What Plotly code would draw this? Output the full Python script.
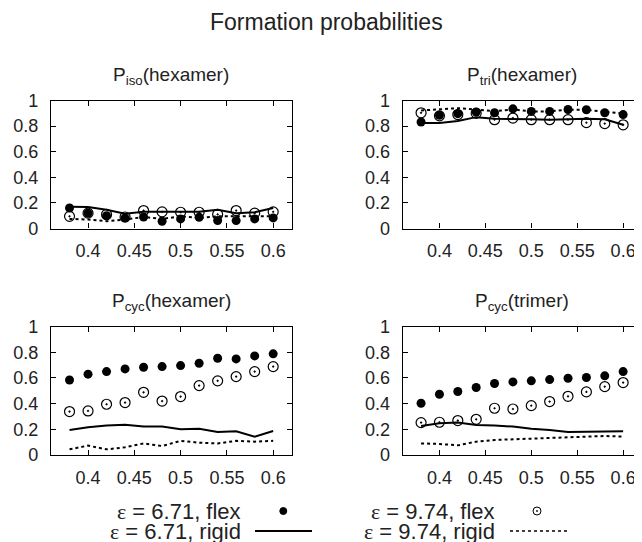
import plotly.graph_objects as go

W, H = 642, 542
OFF = 8  # page body margin of the html page
FONT = "Liberation Sans, Arial, Helvetica, sans-serif"

# x positions (packing fraction)
x = [0.38, 0.40, 0.42, 0.44, 0.46, 0.48, 0.50, 0.52, 0.54, 0.56, 0.58, 0.60]

# P_iso(hexamer)
iso_flex_671 = [0.16, 0.12, 0.10, 0.083, 0.09, 0.057, 0.075, 0.088, 0.062, 0.062, 0.075, 0.083]
iso_flex_974 = [0.095, 0.12, 0.11, 0.09, 0.14, 0.13, 0.127, 0.127, 0.11, 0.14, 0.12, 0.13]
iso_rigid_671 = [0.17, 0.168, 0.147, 0.116, 0.13, 0.13, 0.13, 0.13, 0.147, 0.12, 0.127, 0.16]
iso_rigid_974 = [0.075, 0.07, 0.057, 0.07, 0.09, 0.075, 0.095, 0.083, 0.095, 0.095, 0.09, 0.095]

# P_tri(hexamer)
tri_flex_671 = [0.832, 0.884, 0.897, 0.91, 0.904, 0.935, 0.915, 0.915, 0.93, 0.928, 0.904, 0.89]
tri_flex_974 = [0.904, 0.88, 0.89, 0.90, 0.85, 0.863, 0.85, 0.85, 0.85, 0.827, 0.82, 0.81]
tri_rigid_671 = [0.824, 0.824, 0.84, 0.87, 0.858, 0.853, 0.853, 0.85, 0.853, 0.858, 0.853, 0.81]
tri_rigid_974 = [0.922, 0.93, 0.94, 0.928, 0.917, 0.93, 0.915, 0.915, 0.928, 0.928, 0.91, 0.90]

# P_cyc(hexamer)
cych_flex_671 = [0.584, 0.629, 0.649, 0.67, 0.683, 0.688, 0.696, 0.714, 0.753, 0.748, 0.771, 0.787]
cych_flex_974 = [0.338, 0.343, 0.395, 0.408, 0.488, 0.42, 0.455, 0.54, 0.577, 0.61, 0.649, 0.688]
cych_rigid_671 = [0.195, 0.216, 0.229, 0.236, 0.221, 0.221, 0.20, 0.205, 0.179, 0.184, 0.143, 0.187]
cych_rigid_974 = [0.044, 0.073, 0.044, 0.06, 0.09, 0.07, 0.11, 0.096, 0.09, 0.11, 0.104, 0.11]

# P_cyc(trimer)
cyct_flex_671 = [0.403, 0.473, 0.494, 0.525, 0.556, 0.569, 0.577, 0.587, 0.597, 0.603, 0.616, 0.649]
cyct_flex_974 = [0.252, 0.255, 0.268, 0.278, 0.364, 0.358, 0.384, 0.416, 0.457, 0.491, 0.532, 0.564]
cyct_rigid_671 = [0.226, 0.247, 0.252, 0.234, 0.229, 0.221, 0.205, 0.195, 0.179, 0.182, 0.184, 0.184]
cyct_rigid_974 = [0.09, 0.086, 0.075, 0.104, 0.117, 0.122, 0.127, 0.132, 0.138, 0.143, 0.148, 0.143]

panel_titles = ["P<sub>iso</sub>(hexamer)", "P<sub>tri</sub>(hexamer)",
                "P<sub>cyc</sub>(hexamer)", "P<sub>cyc</sub>(trimer)"]
x_tickvals = [0.4, 0.45, 0.5, 0.55, 0.6]
x_ticktext = ["0.4", "0.45", "0.5", "0.55", "0.6"]
y_tickvals = [0, 0.2, 0.4, 0.6, 0.8, 1]
y_ticktext = ["0", "0.2", "0.4", "0.6", "0.8", "1"]

legend_labels = ["ε = 6.71, flex", "ε = 6.71, rigid", "ε = 9.74, flex", "ε = 9.74, rigid"]

panels = [
    (iso_flex_671, iso_flex_974, iso_rigid_671, iso_rigid_974),
    (tri_flex_671, tri_flex_974, tri_rigid_671, tri_rigid_974),
    (cych_flex_671, cych_flex_974, cych_rigid_671, cych_rigid_974),
    (cyct_flex_671, cyct_flex_974, cyct_rigid_671, cyct_rigid_974),
]

# panel frames in window pixels: (left, right, top, bottom)
frames = [
    (51, 291.7, 100.5, 228.5),
    (402.7, 641.5, 100.5, 228.5),
    (51, 291.7, 326.5, 455),
    (402.7, 641.5, 326.5, 455),
]

def px(v):
    return (v - OFF) / W

def py(v):
    return 1 - (v - OFF) / H

fig = go.Figure()

for i, (f671, f974, r671, r974) in enumerate(panels):
    n = "" if i == 0 else str(i + 1)
    xa, ya = "x" + n, "y" + n
    fig.add_trace(go.Scatter(x=x, y=r671, mode="lines", xaxis=xa, yaxis=ya,
                             line=dict(color="black", width=2), showlegend=False))
    fig.add_trace(go.Scatter(x=x, y=r974, mode="lines", xaxis=xa, yaxis=ya,
                             line=dict(color="black", width=2, dash="dot"), showlegend=False))
    fig.add_trace(go.Scatter(x=x, y=f974, mode="markers", xaxis=xa, yaxis=ya,
                             marker=dict(symbol="circle-open-dot", size=10, color="black",
                                         line=dict(width=1.2, color="black")),
                             showlegend=False))
    fig.add_trace(go.Scatter(x=x, y=f671, mode="markers", xaxis=xa, yaxis=ya,
                             marker=dict(symbol="circle", size=9, color="black"),
                             showlegend=False))

axis_common = dict(showline=True, linecolor="black", linewidth=1.2, mirror="ticks",
                   ticks="inside", ticklen=5, tickwidth=1, tickcolor="black",
                   showgrid=False, zeroline=False, automargin=False,
                   tickfont=dict(family=FONT, size=18, color="#222"))

layout = dict(width=W, height=H, margin=dict(l=0, r=0, t=0, b=0, pad=0, autoexpand=False),
              paper_bgcolor="white", plot_bgcolor="white", showlegend=False)

annotations = []
for i, (l, r, t, b) in enumerate(frames):
    n = "" if i == 0 else str(i + 1)
    layout["xaxis" + n] = dict(axis_common, domain=[px(l), px(r)], range=[0.36, 0.62],
                               tickvals=x_tickvals, ticktext=x_ticktext,
                               anchor="y" + n, ticklabelstandoff=6)
    layout["yaxis" + n] = dict(axis_common, domain=[py(b), py(t)], range=[0, 1],
                               tickvals=y_tickvals, ticktext=y_ticktext,
                               anchor="x" + n, ticklabelstandoff=8)
    annotations.append(dict(text=panel_titles[i], x=px((l + r) / 2), y=py(t - 25),
                            xref="paper", yref="paper", showarrow=False,
                            xanchor="center", yanchor="middle",
                            font=dict(family=FONT, size=19, color="#222")))

annotations.append(dict(text="Formation probabilities", x=px(326), y=py(22),
                        xref="paper", yref="paper", showarrow=False,
                        xanchor="center", yanchor="middle",
                        font=dict(family=FONT, size=23, color="#222")))

# custom legend (text to the left of the sample, gnuplot style)
leg_pos = [(243, 511), (243, 531), (497, 511), (497, 531)]
for lab, (lx, ly) in zip(legend_labels, leg_pos):
    lab_html = lab.replace("ε", '<span style="font-family:Liberation Serif">ε</span>')
    annotations.append(dict(text=lab_html, x=px(lx), y=py(ly), xref="paper", yref="paper",
                            showarrow=False, xanchor="right", yanchor="middle",
                            font=dict(family=FONT, size=22, color="#222")))

shapes = []
# filled dot sample
shapes.append(dict(type="circle", xref="paper", yref="paper", xsizemode="pixel",
                   ysizemode="pixel", xanchor=px(283.3), yanchor=py(511),
                   x0=-3.5, x1=3.5, y0=-3.5, y1=3.5, fillcolor="black",
                   line=dict(color="black", width=1)))
# open-dot sample
shapes.append(dict(type="circle", xref="paper", yref="paper", xsizemode="pixel",
                   ysizemode="pixel", xanchor=px(537), yanchor=py(511),
                   x0=-4, x1=4, y0=-4, y1=4, fillcolor="rgba(0,0,0,0)",
                   line=dict(color="black", width=1)))
shapes.append(dict(type="circle", xref="paper", yref="paper", xsizemode="pixel",
                   ysizemode="pixel", xanchor=px(537), yanchor=py(511),
                   x0=-0.7, x1=0.7, y0=-0.7, y1=0.7, fillcolor="black",
                   line=dict(color="black", width=0.5)))
# solid line sample
shapes.append(dict(type="line", xref="paper", yref="paper", x0=px(255), x1=px(312),
                   y0=py(531), y1=py(531), line=dict(color="black", width=2)))
# dotted line sample
shapes.append(dict(type="line", xref="paper", yref="paper", x0=px(510), x1=px(568),
                   y0=py(531), y1=py(531), line=dict(color="black", width=1.5, dash="dot")))

layout["annotations"] = annotations
layout["shapes"] = shapes
fig.update_layout(**layout)

fig.write_html("out.html")
